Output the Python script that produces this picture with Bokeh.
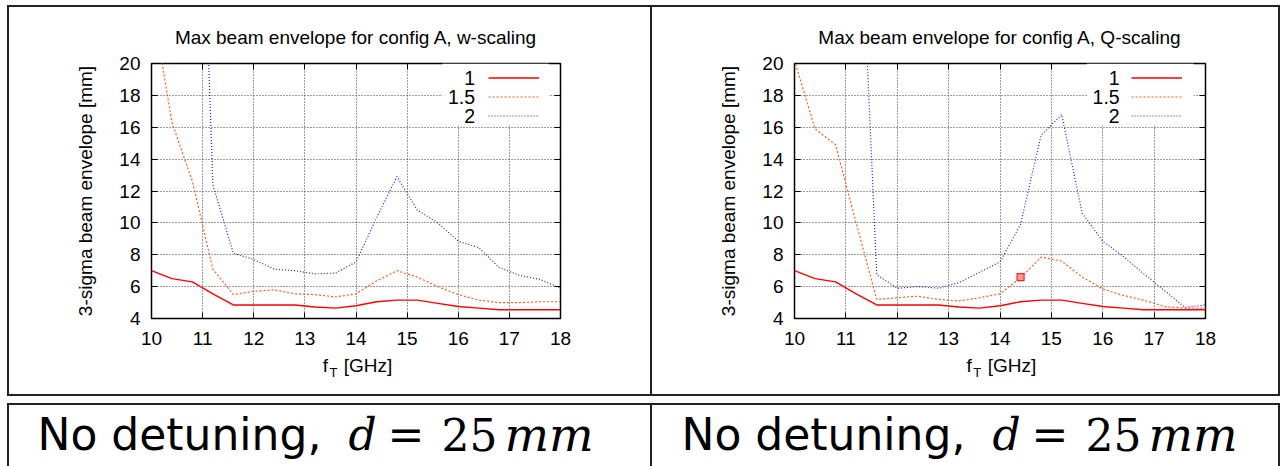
import math
from bokeh.plotting import figure
from bokeh.models import (Range1d, LinearAxis, Label, Legend, LegendItem, BoxAnnotation)
from bokeh.layouts import row, column
from bokeh.core.properties import value
from bokeh.embed import file_html
from bokeh.resources import INLINE

NAN = float("nan")

# ---- data ----
freq_ghz = [10.0, 10.4, 10.8, 11.2, 11.6, 12.0, 12.4, 12.8, 13.2, 13.6, 14.0,
            14.4, 14.8, 15.2, 15.6, 16.0, 16.4, 16.8, 17.2, 17.6, 18.0]

w_scaling_1 = [7.0, 6.5, 6.3, 5.55, 4.85, 4.85, 4.85, 4.85, 4.72, 4.65, 4.8,
               5.05, 5.15, 5.15, 4.95, 4.75, 4.65, 4.55, 4.55, 4.55, 4.55]
w_scaling_15 = [24.0, 16.3, 12.6, 7.1, 5.5, 5.7, 5.8, 5.55, 5.5, 5.35, 5.55,
                6.35, 7.0, 6.6, 6.0, 5.5, 5.15, 5.0, 5.0, 5.05, 5.05]
w_scaling_2 = [NAN, NAN, 50.0, 12.4, 8.1, 7.7, 7.1, 7.0, 6.8, 6.85, 7.55,
               10.3, 12.9, 10.8, 10.0, 8.85, 8.45, 7.2, 6.7, 6.45, 5.9]

q_scaling_1 = [7.0, 6.5, 6.3, 5.55, 4.85, 4.85, 4.85, 4.85, 4.72, 4.65, 4.8,
               5.05, 5.15, 5.15, 4.95, 4.75, 4.65, 4.55, 4.55, 4.55, 4.55]
q_scaling_15 = [20.2, 15.9, 14.9, 10.0, 5.2, 5.3, 5.4, 5.2, 5.1, 5.3, 5.55,
                6.55, 7.85, 7.6, 6.6, 5.85, 5.45, 5.15, 4.75, 4.65, 4.65]
q_scaling_2 = [NAN, NAN, NAN, 36.0, 6.75, 5.9, 6.0, 5.9, 6.25, 6.9, 7.55,
               9.9, 15.5, 16.8, 10.6, 8.85, 7.9, 6.8, 5.75, 4.7, 4.85]

q_marker_x = [14.4]
q_marker_y = [6.6]

x_ticks = [10, 11, 12, 13, 14, 15, 16, 17, 18]
y_ticks = [4, 6, 8, 10, 12, 14, 16, 18, 20]
series_labels = ["1", "1.5", "2"]
titles = ["Max beam envelope for config A, w-scaling",
          "Max beam envelope for config A, Q-scaling"]
y_label = "3-sigma beam envelope [mm]"
x_label_main = "f"
x_label_sub = "T"
x_label_unit = "[GHz]"
caption_sans = "No detuning,"
caption_d = "d"
caption_eq = "="
caption_num = "25"
caption_unit = "mm"

SANS = "Liberation Sans"
LINE = "#222222"
CELL_H = 391
PLOT_H = 345


def make_plot(title, s1, s15, s2, width, border_l, frame_w, marker=None):
    p = figure(frame_width=frame_w, frame_height=255,
               min_border_left=border_l, min_border_right=width - border_l - frame_w,
               min_border_top=58, min_border_bottom=PLOT_H - 58 - 255,
               x_range=Range1d(10, 18), y_range=Range1d(4, 20),
               output_backend="svg", toolbar_location=None)
    p.add_layout(LinearAxis(), "above")
    p.add_layout(LinearAxis(), "right")
    p.xaxis.ticker = x_ticks
    p.yaxis.ticker = y_ticks
    for ax in p.axis:
        ax.major_tick_in = 6
        ax.major_tick_out = 0
        ax.minor_tick_in = 0
        ax.minor_tick_out = 0
        ax.major_tick_line_color = "black"
        ax.axis_line_color = None
        ax.major_label_text_font = SANS
        ax.major_label_text_font_size = "19px"
        ax.major_label_text_color = "black"
    p.below[0].major_label_standoff = 13
    p.left[0].major_label_standoff = 11
    p.above[0].major_label_overrides = {t: "" for t in x_ticks}
    p.right[0].major_label_overrides = {t: "" for t in y_ticks}
    p.above[0].major_label_standoff = 0
    p.right[0].major_label_standoff = 0

    yax = p.left[0]
    yax.axis_label = y_label
    yax.axis_label_text_font = SANS
    yax.axis_label_text_font_size = "19px"
    yax.axis_label_text_font_style = "normal"
    yax.axis_label_text_color = "black"
    yax.axis_label_standoff = 20

    p.title.text = title
    p.title.align = "center"
    p.title.text_font = SANS
    p.title.text_font_size = "19px"
    p.title.text_font_style = "normal"
    p.title.text_color = "black"
    p.title.standoff = 32

    for g in (p.xgrid, p.ygrid):
        g.grid_line_color = "#3a3a3a"
        g.grid_line_dash = "1 2"
        g.grid_line_width = 1
    p.outline_line_color = "black"
    p.outline_line_width = 1.5
    p.background_fill_color = "white"
    p.border_fill_alpha = 0

    r1 = p.line(freq_ghz, s1, line_color="#ff0000", line_width=1.4)
    r2 = p.line(freq_ghz, s15, line_color="#ff5a1e", line_width=1.2, line_dash="2 2")
    r3 = p.line(freq_ghz, s2, line_color="#1a1aff", line_width=1.2, line_dash="1 2")
    if marker is not None:
        p.scatter(marker[0], marker[1], marker="square", size=7,
                  line_color="#ff2020", fill_color="#ff9a9a", line_width=1.2)

    p.add_layout(BoxAnnotation(left=15.69, right=17.77, bottom=16.1, top=20,
                               fill_color="white", fill_alpha=1, line_color=None))
    legend = Legend(items=[LegendItem(label=value(" "), renderers=[r])
                           for r in (r1, r2, r3)],
                    location=(337, 193), glyph_width=51, glyph_height=19,
                    label_height=19, label_width=0, label_standoff=0,
                    label_text_font_size="1px", padding=0, spacing=0, margin=0,
                    border_line_color=None, background_fill_alpha=0)
    p.add_layout(legend)
    for lab, yy in zip(series_labels, [19.11, 17.87, 16.68]):
        p.add_layout(Label(x=16.33, y=yy, text=lab, text_align="right",
                           text_baseline="middle", text_font=SANS,
                           text_font_size="19.5px", text_color="black"))
    return p


def make_xlabel(p, width, border_l, frame_w):
    h = CELL_H - PLOT_H
    f = figure(frame_width=frame_w, frame_height=h,
               min_border_left=border_l, min_border_right=width - border_l - frame_w,
               min_border_top=0, min_border_bottom=0,
               x_range=p.x_range, y_range=Range1d(0, h),
               output_backend="svg", toolbar_location=None)
    f.axis.visible = False
    f.grid.visible = False
    f.outline_line_color = None
    f.background_fill_alpha = 0
    f.border_fill_alpha = 0
    f.add_layout(Label(x=13.35, y=h - 15, text=x_label_main, text_align="left",
                       text_baseline="middle", text_font=SANS,
                       text_font_size="19px", text_color="black"))
    f.add_layout(Label(x=13.48, y=h - 22, text=x_label_sub, text_align="left",
                       text_baseline="middle", text_font=SANS,
                       text_font_size="13px", text_color="black"))
    f.add_layout(Label(x=13.76, y=h - 15, text=x_label_unit, text_align="left",
                       text_baseline="middle", text_font=SANS,
                       text_font_size="19px", text_color="black"))
    return f


def make_caption(width):
    h = 63
    t = figure(width=width, height=h, x_range=Range1d(0, width), y_range=Range1d(0, h),
               min_border=0, output_backend="svg", toolbar_location=None)
    t.axis.visible = False
    t.grid.visible = False
    t.outline_line_color = None
    t.background_fill_alpha = 0
    t.border_fill_alpha = 0
    base = 32
    t.add_layout(Label(x=30, y=base, text=caption_sans, text_font="DejaVu Sans",
                       text_font_size="44px", text_baseline="middle", text_color="black"))
    t.add_layout(Label(x=341, y=base, text=caption_d, text_font="DejaVu Serif",
                       text_font_style="italic", text_font_size="44px",
                       text_baseline="middle", text_color="black"))
    t.add_layout(Label(x=380, y=base, text=caption_eq, text_font="DejaVu Serif",
                       text_font_size="44px", text_baseline="middle", text_color="black"))
    t.add_layout(Label(x=434, y=base, text=caption_num, text_font="DejaVu Serif",
                       text_font_size="44px", text_baseline="middle", text_color="black"))
    t.add_layout(Label(x=497, y=base, text=caption_unit, text_font="DejaVu Serif",
                       text_font_style="italic", text_font_size="47px",
                       text_baseline="middle", text_color="black"))
    return t


def shadow(side):
    return {"box-shadow": f"inset {'-' if side == 'right' else ''}1px 0 0 0 {LINE}"}


p1 = make_plot(titles[0], w_scaling_1, w_scaling_15, w_scaling_2, 644, 144, 409)
p2 = make_plot(titles[1], q_scaling_1, q_scaling_15, q_scaling_2, 629, 143, 411,
               marker=(q_marker_x, q_marker_y))
cell1 = column(p1, make_xlabel(p1, 644, 144, 409), styles=shadow("right"))
cell2 = column(p2, make_xlabel(p2, 629, 143, 411), styles=shadow("left"))
t1 = make_caption(644)
t2 = make_caption(629)
t1.styles = shadow("right")
t2.styles = shadow("left")

top = row(cell1, cell2, styles={"background-color": "white",
                                "box-shadow": f"inset 0 0 0 2px {LINE}"})
bottom = row(t1, t2, styles={"background-color": "white",
                             "box-shadow": f"inset 0 2px 0 0 {LINE}, inset 2px 0 0 0 {LINE}, inset -2px 0 0 0 {LINE}"})
layout = column(top, bottom, spacing=7, margin=(5, 0, 0, 7))

open("out.html", "w").write(file_html(layout, INLINE))
